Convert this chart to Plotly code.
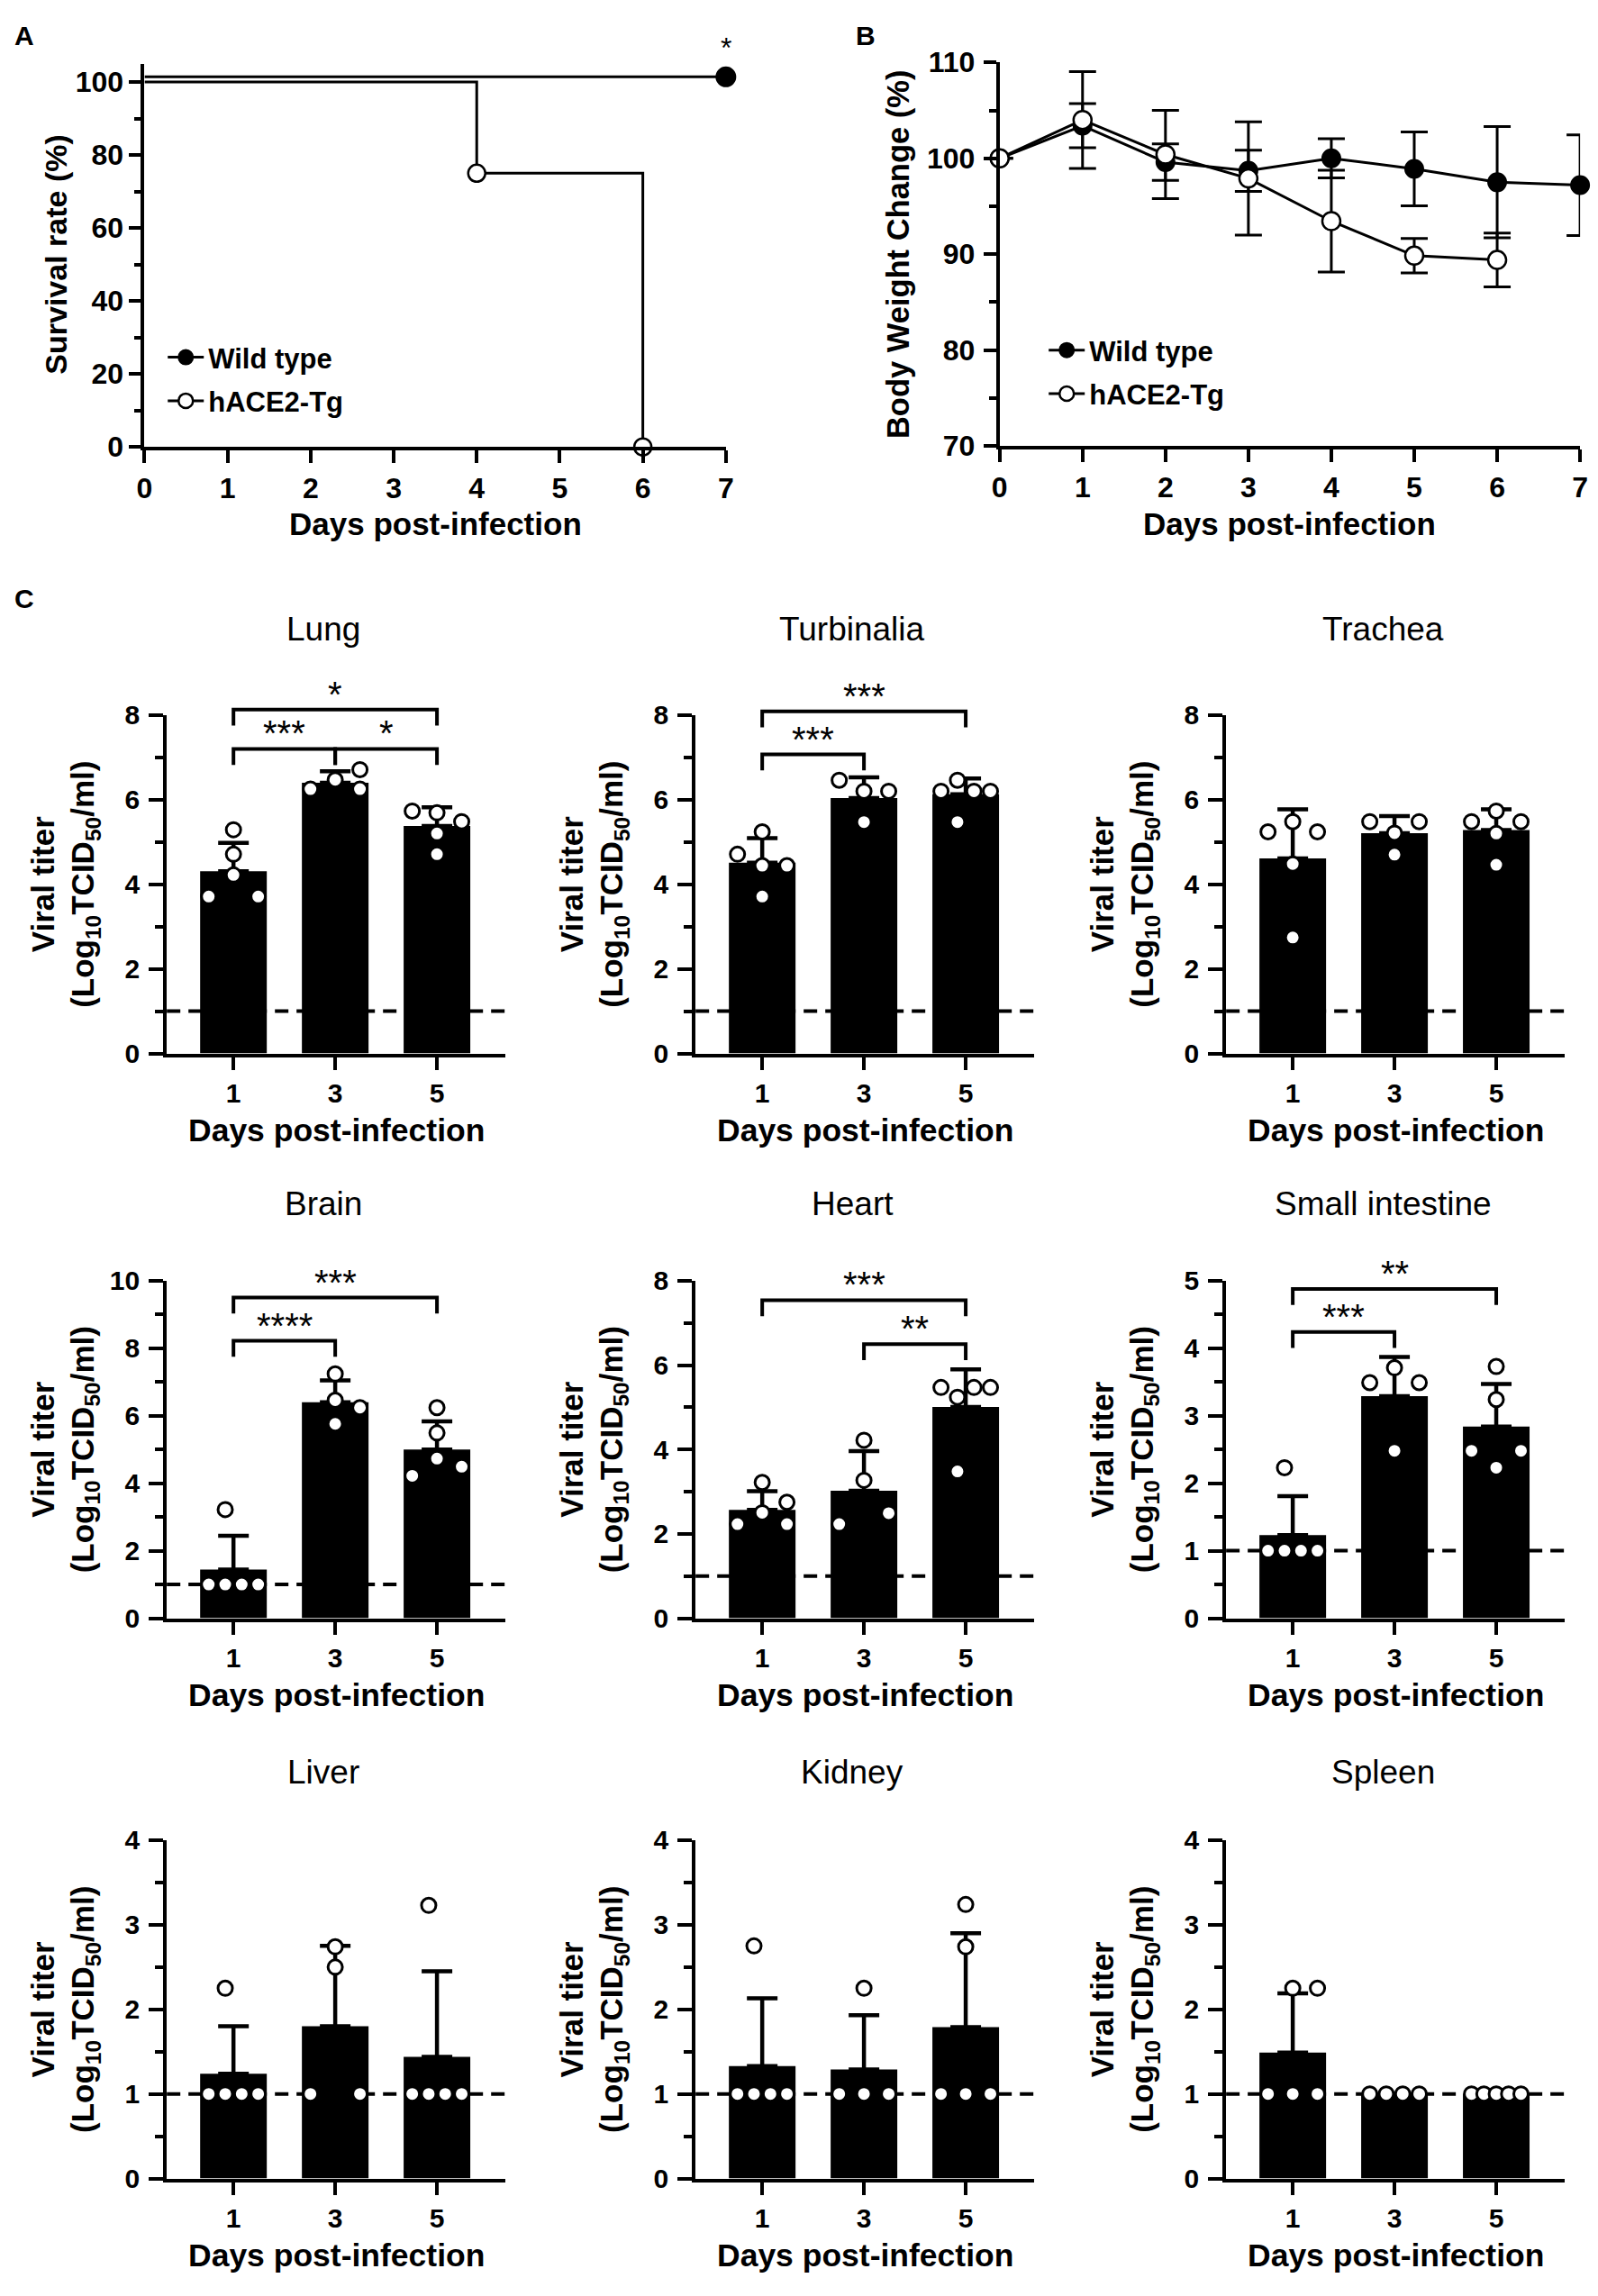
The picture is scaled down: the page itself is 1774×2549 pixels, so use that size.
import plotly.graph_objects as go

W, H = 1774, 2549
FONT = "Liberation Sans"

# ---------------- Panel A: survival ----------------
surv_days_wt = [0, 7]
surv_wt = [100, 100]
surv_evt_days_wt = [7]
surv_evt_wt = [100]
surv_days_tg = [0, 4, 6]
surv_tg = [100, 75, 0]
surv_evt_days_tg = [4, 6]
surv_evt_tg = [75, 0]
surv_sig_day = 7
surv_sig_label = "*"

# ---------------- Panel B: body weight ----------------
bw_days_wt = [0, 1, 2, 3, 4, 5, 6, 7]
bw_wt = [100, 103.4, 99.6, 98.7, 100.0, 98.9, 97.5, 97.2]
bw_wt_sd = [0, 2.3, 1.9, 2.15, 2.05, 3.85, 5.8, 5.25]
bw_days_tg = [0, 1, 2, 3, 4, 5, 6]
bw_tg = [100, 104.0, 100.4, 97.9, 93.45, 89.85, 89.4]
bw_tg_sd = [0, 5.05, 4.6, 5.9, 5.3, 1.8, 2.8]

# ---------------- Panel C: viral titers ----------------
organs = ["Lung", "Turbinalia", "Trachea", "Brain", "Heart", "Small intestine",
          "Liver", "Kidney", "Spleen"]
days_c = [1, 3, 5]
day_labels = ["1", "3", "5"]
y_max = [8, 8, 8, 10, 8, 5, 4, 4, 4]
y_major = [2, 2, 2, 2, 2, 1, 1, 1, 1]
y_minor = [1, 1, 1, 1, 1, 0.5, 0.5, 0.5, 0.5]
detection_limit = 1.0

titer_mean = [
    [4.31, 6.40, 5.38],
    [4.51, 6.04, 6.13],
    [4.61, 5.21, 5.28],
    [1.44, 6.40, 5.00],
    [2.57, 3.02, 5.01],
    [1.23, 3.29, 2.84],
    [1.24, 1.80, 1.44],
    [1.33, 1.29, 1.79],
    [1.49, 1.00, 1.00],
]
titer_sd = [
    [0.67, 0.27, 0.44],
    [0.58, 0.49, 0.37],
    [1.16, 0.40, 0.49],
    [1.00, 0.65, 0.83],
    [0.44, 0.94, 0.89],
    [0.58, 0.58, 0.63],
    [0.56, 0.95, 1.01],
    [0.80, 0.64, 1.11],
    [0.70, 0.00, 0.00],
]
titer_points = [
    [[5.29, 4.71, 4.22, 3.71, 3.71], [6.25, 6.47, 6.71, 6.25], [5.73, 5.69, 5.48, 5.20, 4.71]],
    [[5.24, 4.71, 4.44, 4.44, 3.71], [6.46, 6.20, 6.20, 5.47], [6.20, 6.46, 6.20, 6.20, 5.47]],
    [[5.24, 5.48, 5.24, 4.48, 2.74], [5.48, 5.21, 5.48, 4.70], [5.48, 5.73, 5.48, 5.20, 4.46]],
    [[3.22, 1.0, 1.0, 1.0, 1.0], [7.24, 6.46, 6.24, 5.76], [6.24, 5.49, 4.22, 4.73, 4.49]],
    [[3.22, 2.50, 2.75, 2.23, 2.23], [4.22, 3.27, 2.23, 2.49], [5.47, 5.24, 5.47, 5.47, 3.48]],
    [[2.23, 1.0, 1.0, 1.0, 1.0], [3.49, 3.71, 3.49, 2.48], [3.73, 3.24, 2.48, 2.48, 2.23]],
    [[2.25, 1.0, 1.0, 1.0, 1.0], [2.74, 2.50, 1.0, 1.0], [3.23, 1.0, 1.0, 1.0, 1.0]],
    [[2.75, 1.0, 1.0, 1.0, 1.0], [2.25, 1.0, 1.0, 1.0], [3.24, 2.74, 1.0, 1.0, 1.0]],
    [[2.25, 2.25, 1.0, 1.0, 1.0], [1.0, 1.0, 1.0, 1.0], [1.0, 1.0, 1.0, 1.0, 1.0]],
]
# horizontal spreading slot of each dot (in symbol widths), as laid out in the figure
dot_slots = [
    [[0, 0, 0, -1.5, 1.5], [-1.5, 0, 1.5, 1.5], [-1.5, 0, 1.5, 0, 0]],
    [[0, -1.5, 0, 1.5, 0], [-1.5, 0, 1.5, 0], [-1.5, -0.5, 0.5, 1.5, -0.5]],
    [[-1.5, 0, 1.5, 0, 0], [-1.5, 0, 1.5, 0], [-1.5, 0, 1.5, 0, 0]],
    [[-0.5, -1.5, -0.5, 0.5, 1.5], [0, 0, 1.5, 0], [0, 0, -1.5, 0, 1.5]],
    [[0, 0, 1.5, -1.5, 1.5], [0, 0, -1.5, 1.5], [-1.5, -0.5, 0.5, 1.5, -0.5]],
    [[-0.5, -1.5, -0.5, 0.5, 1.5], [-1.5, 0, 1.5, 0], [0, 0, -1.5, 1.5, 0]],
    [[-0.5, -1.5, -0.5, 0.5, 1.5], [0, 0, -1.5, 1.5], [-0.5, -1.5, -0.5, 0.5, 1.5]],
    [[-0.5, -1.5, -0.5, 0.5, 1.5], [0, -1.5, 0, 1.5], [0, 0, -1.5, 0, 1.5]],
    [[0, 1.5, -1.5, 0, 1.5], [-1.5, -0.5, 0.5, 1.5], [-1.5, -0.75, 0, 0.75, 1.5]],
]
# significance comparisons: organ index, day a, day b, bracket level, label
sig_organ = [0, 0, 0, 1, 1, 3, 3, 4, 4, 5, 5]
sig_day_a = [1, 1, 3, 1, 1, 1, 1, 1, 3, 1, 1]
sig_day_b = [5, 3, 5, 5, 3, 5, 3, 5, 5, 5, 3]
sig_level = [8.13, 7.20, 7.20, 8.09, 7.07, 9.50, 8.22, 7.54, 6.50, 4.88, 4.24]
sig_label = ["*", "***", "*", "***", "***", "***", "****", "***", "**", "**", "***"]

# ---------------- layout geometry (pixels) ----------------
col_left = [178, 771, 1366]
col_w = 380
row_top = [787, 1424, 2054]
row_bot = [1168, 1804, 2435]
row_title_y = [690, 1337, 1977]
X_RANGE = [-0.31, 6.35]
BAR_W = 1.31
SLOT = 0.324
AXW = 4

def fx(p):
    return p / W

def fy(p):
    return 1 - p / H

fig = go.Figure()
layout = dict(
    width=W, height=H, margin=dict(l=0, r=0, t=0, b=0),
    paper_bgcolor="white", plot_bgcolor="white", showlegend=True,
    font=dict(family=FONT, color="black"),
)
annotations = []
shapes = []

def axis_common(fs):
    return dict(showline=True, linewidth=AXW, linecolor="black", ticks="outside",
                tickwidth=AXW, tickcolor="black", showgrid=False, zeroline=False,
                tickfont=dict(family=FONT, size=fs, color="black", weight="bold"),
                fixedrange=True)

def label(text, x, y, size, bold=True, angle=0):
    return dict(text=text, x=x, y=y, xref="paper", yref="paper", showarrow=False,
                xanchor="center", yanchor="middle", textangle=angle,
                font=dict(size=size, family=FONT, color="black", weight="bold" if bold else "normal"))

# ---------- Panel A ----------
A_L, A_R, A_T, A_B = 153, 805, 53.5, 485
WT_STAGGER = 1.4
layout["xaxis"] = dict(axis_common(32), domain=[fx(A_L), fx(A_R)], range=[0, 7], dtick=1,
                       ticklen=14, anchor="y", ticklabelstandoff=0)
layout["yaxis"] = dict(axis_common(32), domain=[fy(A_B), fy(A_T)], range=[0, 105], dtick=20,
                       tick0=0, ticklen=13, anchor="x", ticklabelstandoff=0,
                       minor=dict(dtick=10, ticklen=7, tickwidth=AXW, tickcolor="black", ticks="outside"))
fig.add_trace(go.Scatter(x=surv_days_wt, y=[v + WT_STAGGER for v in surv_wt], mode="lines",
                         line=dict(color="black", width=3), xaxis="x", yaxis="y",
                         showlegend=False, cliponaxis=False, hoverinfo="skip"))
fig.add_trace(go.Scatter(x=surv_evt_days_wt, y=[v + WT_STAGGER for v in surv_evt_wt], mode="markers",
                         marker=dict(size=21, color="black", line=dict(color="black", width=2)),
                         xaxis="x", yaxis="y", showlegend=False, cliponaxis=False))
fig.add_trace(go.Scatter(x=surv_days_tg, y=surv_tg, mode="lines", line_shape="hv",
                         line=dict(color="black", width=3), xaxis="x", yaxis="y",
                         showlegend=False, cliponaxis=False))
fig.add_trace(go.Scatter(x=surv_evt_days_tg, y=surv_evt_tg, mode="markers",
                         marker=dict(size=19, color="white", line=dict(color="black", width=2.5)),
                         xaxis="x", yaxis="y", showlegend=False, cliponaxis=False))
# legend entries for A
fig.add_trace(go.Scatter(x=[None], y=[None], mode="lines+markers", name="Wild type",
                         line=dict(color="black", width=3), legendgroup="a1",
                         marker=dict(size=18, color="black", line=dict(color="black", width=2)),
                         xaxis="x", yaxis="y", legend="legend"))
fig.add_trace(go.Scatter(x=[None], y=[None], mode="lines+markers", name="hACE2-Tg",
                         line=dict(color="black", width=3), legendgroup="a2",
                         marker=dict(size=18, color="white", line=dict(color="black", width=2.5)),
                         xaxis="x", yaxis="y", legend="legend"))
annotations.append(dict(text=surv_sig_label, x=surv_sig_day, y=105, xref="x", yref="y",
                        yshift=18, showarrow=False, font=dict(size=32, family=FONT, color="black")))
annotations.append(label("Survival rate (%)", fx(54), fy(268), 34, angle=-90))
annotations.append(label("Days post-infection", fx((A_L + A_R) / 2), fy(572), 35))

# ---------- Panel B ----------
B_L, B_R, B_T, B_B = 1112, 1763, 52, 484
layout["xaxis2"] = dict(axis_common(32), domain=[fx(B_L), fx(B_R)], range=[0, 7], dtick=1,
                        ticklen=14, anchor="y2", ticklabelstandoff=0)
layout["yaxis2"] = dict(axis_common(32), domain=[fy(B_B), fy(B_T)], range=[70, 110], dtick=10,
                        tick0=70, ticklen=14, anchor="x2", ticklabelstandoff=3,
                        minor=dict(dtick=5, ticklen=8, tickwidth=AXW, tickcolor="black", ticks="outside"))
fig.add_trace(go.Scatter(x=bw_days_wt, y=bw_wt, mode="lines+markers", name="Wild type",
                         line=dict(color="black", width=3), legendgroup="b1",
                         marker=dict(size=20, color="black", line=dict(color="black", width=2)),
                         error_y=dict(type="data", array=bw_wt_sd, visible=True, color="black",
                                      thickness=3, width=15),
                         xaxis="x2", yaxis="y2", legend="legend2", cliponaxis=False))
fig.add_trace(go.Scatter(x=bw_days_tg, y=bw_tg, mode="lines+markers", name="hACE2-Tg",
                         line=dict(color="black", width=3), legendgroup="b2",
                         marker=dict(size=20, color="white", line=dict(color="black", width=2.5)),
                         error_y=dict(type="data", array=bw_tg_sd, visible=True, color="black",
                                      thickness=3, width=15),
                         xaxis="x2", yaxis="y2", legend="legend2", cliponaxis=False))
annotations.append(label("Body Weight Change (%)", fx(998), fy(268), 34.5, angle=-90))
annotations.append(label("Days post-infection", fx((B_L + B_R) / 2), fy(572), 35))

legend_style = dict(font=dict(size=31, family=FONT, color="black", weight="bold"),
                    bgcolor="rgba(0,0,0,0)", xanchor="left", yanchor="top",
                    itemsizing="trace", tracegroupgap=5, itemwidth=40)
layout["legend"] = dict(legend_style, x=fx(174), y=fy(357))
layout["legend2"] = dict(legend_style, x=fx(1162), y=fy(349))

# panel letters
for letter, px, py in [("A", 18, 22), ("B", 962, 22), ("C", 18, 656)]:
    annotations.append(label(letter, fx(px), fy(py), 30))

# ---------- Panel C ----------
for i, organ in enumerate(organs):
    r, c = divmod(i, 3)
    n = 3 + i
    xa, ya = "x%d" % n, "y%d" % n
    L = col_left[c]
    T, Bm = row_top[r], row_bot[r]
    layout["xaxis%d" % n] = dict(axis_common(30), domain=[fx(L), fx(L + col_w)], range=X_RANGE,
                                 tickvals=days_c, ticktext=day_labels, ticklen=14, anchor=ya,
                                 ticklabelstandoff=0)
    layout["yaxis%d" % n] = dict(axis_common(30), domain=[fy(Bm), fy(T)], range=[0, y_max[i]],
                                 dtick=y_major[i], tick0=0, ticklen=16, anchor=xa, ticklabelstandoff=4,
                                 minor=dict(dtick=y_minor[i], ticklen=9, tickwidth=AXW,
                                            tickcolor="black", ticks="outside"))
    sd_up = [s if s > 0 else None for s in titer_sd[i]]
    fig.add_trace(go.Bar(x=days_c, y=titer_mean[i], width=BAR_W, marker=dict(color="black", line=dict(width=0)),
                         error_y=dict(type="data", array=sd_up, arrayminus=[0, 0, 0], symmetric=False,
                                      visible=True, color="black", thickness=4.5, width=17),
                         xaxis=xa, yaxis=ya, showlegend=False))
    dx, dy = [], []
    for d, pts, slots in zip(days_c, titer_points[i], dot_slots[i]):
        for v, s in zip(pts, slots):
            dx.append(d + s * SLOT)
            dy.append(v)
    fig.add_trace(go.Scatter(x=dx, y=dy, mode="markers",
                             marker=dict(size=16, color="white", line=dict(color="black", width=3)),
                             xaxis=xa, yaxis=ya, showlegend=False, cliponaxis=False))
    shapes.append(dict(type="line", xref="%s domain" % xa, yref=ya, x0=0, x1=1,
                       y0=detection_limit, y1=detection_limit, layer="below",
                       line=dict(color="black", width=4, dash="15px,9px")))
    # titles
    annotations.append(label(organ, fx(L + col_w / 2 - 14), fy(row_title_y[r]), 37, bold=False))
    annotations.append(label("Days post-infection", fx(L + col_w / 2), fy(Bm + 87), 35.5))
    ymid = fy((T + Bm) / 2)
    annotations.append(label("Viral titer", fx(L - 139), ymid, 35, angle=-90))
    annotations.append(label("(Log<sub>10</sub>TCID<sub>50</sub>/ml)", fx(L - 92), ymid, 35, angle=-90))

# significance brackets (vertical position expressed as a fraction of the y axis)
for o, a, b, lv, lab in zip(sig_organ, sig_day_a, sig_day_b, sig_level, sig_label):
    n = 3 + o
    r = o // 3
    h_px = row_bot[r] - row_top[r]
    yf = lv / y_max[o]
    drop = 18 / h_px
    shapes.append(dict(type="path", xref="x%d" % n, yref="y%d domain" % n,
                       path="M %f,%f L %f,%f L %f,%f L %f,%f" % (a, yf - drop, a, yf, b, yf, b, yf - drop),
                       line=dict(color="black", width=4), layer="above"))
    annotations.append(dict(text=lab, x=(a + b) / 2, y=yf, xref="x%d" % n, yref="y%d domain" % n,
                            showarrow=False, xanchor="center", yanchor="middle", yshift=17,
                            font=dict(size=40, family=FONT, color="black")))

layout["annotations"] = annotations
layout["shapes"] = shapes
fig.update_layout(**layout)
fig.write_html("out.html", config={"displayModeBar": False},
               post_script="document.body.style.margin='0';document.documentElement.style.margin='0';")
